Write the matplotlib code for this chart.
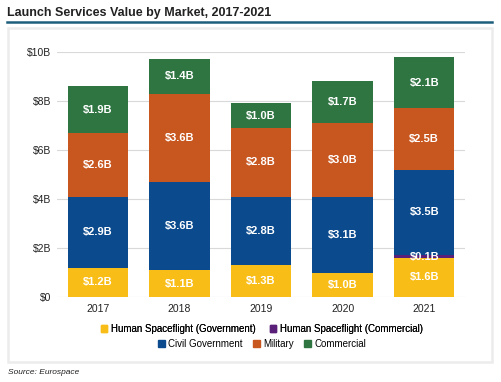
import numpy as np
import matplotlib.pyplot as plt
from matplotlib.patches import Rectangle, Patch
from matplotlib.lines import Line2D

plt.rcParams['font.family'] = ['Liberation Sans', 'DejaVu Sans']

years = ['2017', '2018', '2019', '2020', '2021']
human_gov = [1.2, 1.1, 1.3, 1.0, 1.6]
human_com = [0.0, 0.0, 0.0, 0.0, 0.1]
civil_gov = [2.9, 3.6, 2.8, 3.1, 3.5]
military = [2.6, 3.6, 2.8, 3.0, 2.5]
commercial = [1.9, 1.4, 1.0, 1.7, 2.1]

series = [
    ('Human Spaceflight (Government)', human_gov, '#f9bd17'),
    ('Human Spaceflight (Commercial)', human_com, '#5a1f78'),
    ('Civil Government', civil_gov, '#0b4a8d'),
    ('Military', military, '#c8561f'),
    ('Commercial', commercial, '#2f7542'),
]

W, H = 501, 382
fig = plt.figure(figsize=(W / 100, H / 100), dpi=100)
fig.patch.set_facecolor('white')

# panel box
fig.patches.append(Rectangle((8 / W, 1 - 362 / H), 484 / W, 334 / H, transform=fig.transFigure,
                             facecolor='white', edgecolor='#ececec', lw=1.8, zorder=-5))
# title + rule
fig.text(7 / W, 1 - 13 / H, 'Launch Services Value by Market, 2017-2021', fontsize=9,
         fontweight='bold', color='#222222', va='center', ha='left')
fig.add_artist(Line2D([7 / W, 492 / W], [1 - 22 / H, 1 - 22 / H], transform=fig.transFigure,
                      color='#1d5e7c', lw=1.8))
fig.text(8 / W, 1 - 372 / H, 'Source: Eurospace', fontsize=6, style='italic',
         color='#222222', va='center', ha='left')

ax = fig.add_axes([57 / W, 1 - 297 / H, 408 / W, 245 / H])
x = np.arange(len(years))
bottom = np.zeros(len(years))
for name, vals, col in series:
    vals = np.array(vals)
    ax.bar(x, vals, 0.74, bottom=bottom, color=col, label=name, zorder=2)
    for xi, b, v in zip(x, bottom, vals):
        if v > 0:
            ax.text(xi, b + v / 2, f'${v:.1f}B', ha='center', va='center', color='white',
                    fontsize=8, fontweight='bold', zorder=3)
    bottom += vals

ax.set_ylim(0, 10)
ax.set_xlim(-0.5, 4.5)
ax.set_yticks(np.arange(0, 11, 2))
ax.set_yticklabels(['$0', '$2B', '$4B', '$6B', '$8B', '$10B'])
ax.set_xticks(x)
ax.set_xticklabels(years)
ax.grid(axis='y', color='#d9d9d9', lw=0.8, zorder=0)
for s in ax.spines.values():
    s.set_visible(False)
ax.tick_params(axis='y', length=0, pad=4, labelsize=7.5, labelcolor='#222222')
ax.tick_params(axis='x', length=0, pad=5, labelsize=7.5, labelcolor='#222222')
ax.set_facecolor('none')

h = [Patch(color=c) for _, _, c in series]
lab = [n for n, _, _ in series]
leg1 = fig.legend(h[:2], lab[:2], ncol=2, loc='center', bbox_to_anchor=(262 / W, 1 - 329 / H),
                  frameon=False, fontsize=7, handlelength=0.7, handleheight=0.7,
                  handletextpad=0.4, columnspacing=1.4, borderaxespad=0, borderpad=0)
fig.legend(h[2:], lab[2:], ncol=3, loc='center', bbox_to_anchor=(262 / W, 1 - 344 / H),
           frameon=False, fontsize=7, handlelength=0.7, handleheight=0.7,
           handletextpad=0.4, columnspacing=1.0, borderaxespad=0, borderpad=0)
fig.add_artist(leg1)

fig.savefig('out.png', dpi=100)
